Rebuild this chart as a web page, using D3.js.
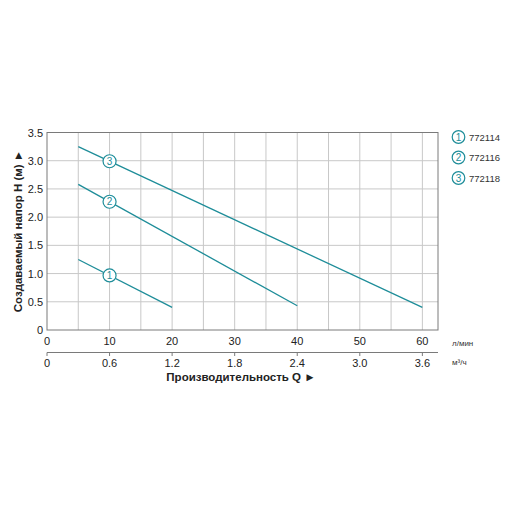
<!DOCTYPE html>
<html>
<head>
<meta charset="utf-8">
<script src="https://cdn.jsdelivr.net/npm/d3@7"></script>
<style>
  body { margin: 0; background: #fff; }
  svg { font-family: "Liberation Sans", Arial, sans-serif; }
</style>
</head>
<body>
<svg id="chart" width="512" height="512"></svg>
<script>
// данные кривых (Q в л/мин, H в м)
const models = ["772114", "772116", "772118"];
const curveQ = [[5, 20], [5, 40], [5, 60]];
const curveH = [[1.25, 0.40], [2.58, 0.43], [3.25, 0.40]];
const markerQ = 10;
const xTicks = [0, 10, 20, 30, 40, 50, 60];
const xTicks2 = ["0", "0.6", "1.2", "1.8", "2.4", "3.0", "3.6"];
const yTicks = [0, 0.5, 1.0, 1.5, 2.0, 2.5, 3.0, 3.5];
const gridX = [5, 10, 15, 20, 25, 30, 35, 40, 45, 50, 55, 60];

const teal = "#1e8d99";
const svg = d3.select("#chart");

const x = d3.scaleLinear().domain([0, 62.5]).range([47, 438]);
const y = d3.scaleLinear().domain([0, 3.5]).range([330, 132.5]);

// сетка
svg.append("g").selectAll("line").data(gridX).enter().append("line")
    .attr("x1", d => x(d)).attr("x2", d => x(d))
    .attr("y1", y(0)).attr("y2", y(3.5))
    .attr("stroke", "#c8c8c8").attr("stroke-width", 1);
svg.append("g").selectAll("line").data(yTicks.slice(1, -1)).enter().append("line")
    .attr("x1", x(0)).attr("x2", x(62.5))
    .attr("y1", d => y(d)).attr("y2", d => y(d))
    .attr("stroke", "#c8c8c8").attr("stroke-width", 1);

// рамка
svg.append("rect")
    .attr("x", x(0)).attr("y", y(3.5))
    .attr("width", x(62.5) - x(0)).attr("height", y(0) - y(3.5))
    .attr("fill", "none").attr("stroke", "#7a7a7a").attr("stroke-width", 1);

// подписи оси Y
svg.append("g").selectAll("text").data(yTicks).enter().append("text")
    .attr("x", 43).attr("y", d => y(d) + 4)
    .attr("text-anchor", "end").attr("font-size", 11).attr("fill", "#222")
    .text(d => d === 0 ? "0" : d.toFixed(1));

// подписи оси X (л/мин)
svg.append("g").selectAll("text").data(xTicks).enter().append("text")
    .attr("x", d => x(d)).attr("y", 345)
    .attr("text-anchor", "middle").attr("font-size", 11).attr("fill", "#222")
    .text(d => d);

// вторая ось (м³/ч)
const y2 = 352.5;
svg.append("line")
    .attr("x1", x(0)).attr("x2", x(62.5)).attr("y1", y2).attr("y2", y2)
    .attr("stroke", "#7a7a7a");
svg.append("g").selectAll("line").data(xTicks).enter().append("line")
    .attr("x1", d => x(d)).attr("x2", d => x(d))
    .attr("y1", y2).attr("y2", y2 + 3.5)
    .attr("stroke", "#7a7a7a");
svg.append("g").selectAll("text").data(xTicks2).enter().append("text")
    .attr("x", (d, i) => x(xTicks[i])).attr("y", 367)
    .attr("text-anchor", "middle").attr("font-size", 11).attr("fill", "#222")
    .text(d => d);

svg.append("text").attr("x", 452).attr("y", 346)
    .attr("font-size", 8).attr("fill", "#333").text("л/мин");
svg.append("text").attr("x", 452).attr("y", 365)
    .attr("font-size", 8).attr("fill", "#333").text("м³/ч");

// заголовки осей
svg.append("text").attr("x", 241).attr("y", 381)
    .attr("text-anchor", "middle").attr("font-size", 11.5).attr("font-weight", "bold")
    .attr("fill", "#222").text("Производительность Q ►");
svg.append("text")
    .attr("transform", "translate(22,231) rotate(-90)")
    .attr("text-anchor", "middle").attr("font-size", 11.5).attr("font-weight", "bold")
    .attr("fill", "#222").text("Создаваемый напор H (м) ►");

// кривые
const line = d3.line().x(d => x(d[0])).y(d => y(d[1]));
models.forEach((m, i) => {
    const pts = curveQ[i].map((q, j) => [q, curveH[i][j]]);
    svg.append("path").datum(pts)
        .attr("d", line).attr("fill", "none")
        .attr("stroke", teal).attr("stroke-width", 1.3);

    const q0 = curveQ[i][0], q1 = curveQ[i][1];
    const h0 = curveH[i][0], h1 = curveH[i][1];
    const hm = h0 + (h1 - h0) * (markerQ - q0) / (q1 - q0);
    svg.append("circle")
        .attr("cx", x(markerQ)).attr("cy", y(hm)).attr("r", 6.5)
        .attr("fill", "#fff").attr("stroke", teal).attr("stroke-width", 1.2);
    svg.append("text")
        .attr("x", x(markerQ)).attr("y", y(hm) + 3.5)
        .attr("text-anchor", "middle").attr("font-size", 10).attr("fill", teal)
        .text(i + 1);
});

// легенда
models.forEach((m, i) => {
    const ly = 137 + i * 20.5;
    svg.append("circle").attr("cx", 458.5).attr("cy", ly).attr("r", 6.3)
        .attr("fill", "#fff").attr("stroke", teal).attr("stroke-width", 1.2);
    svg.append("text").attr("x", 458.5).attr("y", ly + 3.5)
        .attr("text-anchor", "middle").attr("font-size", 10).attr("fill", teal)
        .text(i + 1);
    svg.append("text").attr("x", 469).attr("y", ly + 3.5)
        .attr("font-size", 9.5).attr("fill", "#333").text(m);
});
</script>
</body>
</html>
